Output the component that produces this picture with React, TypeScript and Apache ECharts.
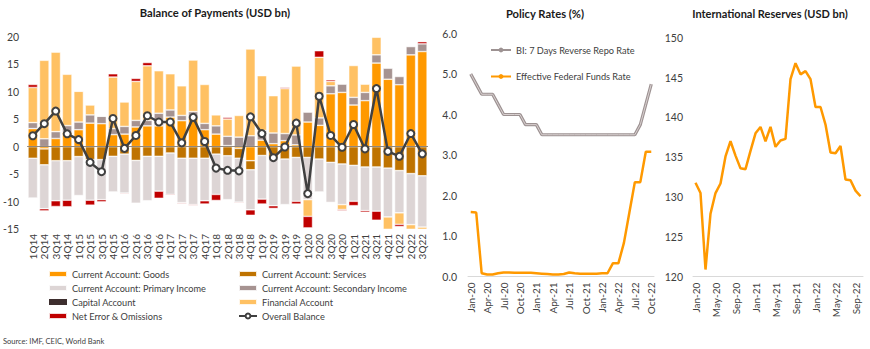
import React, { useEffect, useRef } from "react";
import * as echarts from "echarts";

const quarters = [
  "1Q14", "2Q14", "3Q14", "4Q14", "1Q15", "2Q15", "3Q15", "4Q15",
  "1Q16", "2Q16", "3Q16", "4Q16", "1Q17", "2Q17", "3Q17", "4Q17",
  "1Q18", "2Q18", "3Q18", "4Q18", "1Q19", "2Q19", "3Q19", "4Q19",
  "1Q20", "2Q20", "3Q20", "4Q20", "1Q21", "2Q21", "3Q21", "4Q21",
  "1Q22", "2Q22", "3Q22",
];
const goods = [3.3, -0.4, 1.5, 2.65, 3.1, 4.3, 4.2, 2.2, 2.3, 3.6, 3.8, 3.8, 5.4, 4.75, 5.35, 3.1, 2.3, 0.2, -0.3, -2.55, 1.2, 0.55, 1.1, 0.35, 4.5, 3.9, 9.65, 9.9, 7.6, 8.4, 15.25, 12.3, 11.3, 16.75, 17.35];
const services = [-2.1, -2.9, -2.55, -2.55, -1.8, -2.35, -2.35, -1.75, -1.35, -2.5, -1.75, -1.75, -1.15, -2.1, -2.1, -2.1, -1.35, -1.65, -1.8, -1.65, -1.6, -1.95, -2.25, -1.95, -1.95, -2.25, -2.85, -3.15, -3.4, -3.7, -3.7, -3.9, -4.35, -4.9, -5.3];
const primaryIncome = [-7.25, -8.0, -7.3, -7.2, -7.1, -7.4, -7.3, -6.5, -7.1, -7.8, -8.1, -6.35, -7.55, -8.1, -8.45, -7.75, -7.35, -8.0, -8.0, -7.3, -7.95, -8.8, -8.3, -8.0, -7.7, -6.0, -7.3, -7.4, -6.55, -7.95, -8.05, -8.9, -7.7, -9.3, -9.35];
const secondaryIncome = [1.1, 1.45, 1.25, 1.2, 1.4, 1.5, 1.35, 1.1, 1.4, 1.2, 1.0, 2.3, 1.3, 0.95, 1.05, 1.15, 1.5, 1.7, 1.75, 2.0, 1.75, 1.95, 1.3, 1.8, 1.8, 1.35, 1.45, 1.5, 1.4, 1.5, 1.5, 2.0, 1.5, 1.5, 1.4];
const capitalAccount = [0, 0, 0, 0, 0, 0, 0, 0, 0, 0, 0, 0, 0, 0, 0, 0, 0, 0, 0, 0, 0, 0, 0, 0, 0, 0, 0, 0, 0, 0, 0, 0, 0, 0, 0];
const financialAccount = [6.4, 14.3, 14.5, 9.35, 5.6, 1.8, 0, 9.4, 4.45, 7.1, 9.95, 7.75, 6.6, 5.4, 9.4, 7.1, 2.0, 3.15, 3.95, 15.8, 10.0, 6.8, 8.2, 12.55, -3.05, 11.05, 0.8, -0.9, 5.8, 1.5, 3.2, -2.4, -2.1, -1.7, -5.8];
const netErrors = [0.55, -0.4, -1.05, -1.2, 0.1, -0.9, -0.4, 0.6, -0.15, 0.55, 0.6, -1.3, -0.15, -0.15, -0.15, -0.6, -1.1, 0.3, -0.15, -1.0, -0.9, -0.5, 0.2, -0.5, -2.1, 1.2, 0.3, -0.2, -0.8, -0.3, -1.65, 0, -0.4, 0, 0.4];
const overallBalance = [2.0, 4.2, 6.5, 2.35, 1.3, -2.85, -4.55, 5.15, -0.3, 2.05, 5.65, 4.5, 4.5, 0.7, 5.35, 0.95, -3.9, -4.3, -4.4, 5.45, 2.4, -2.0, -0.05, 4.3, -8.55, 9.2, 2.05, -0.1, 4.05, -0.4, 10.6, -0.85, -1.75, 2.4, -1.3];

const rateMonths = [
  "Jan-20", "Feb-20", "Mar-20", "Apr-20", "May-20", "Jun-20", "Jul-20", "Aug-20", "Sep-20", "Oct-20", "Nov-20", "Dec-20",
  "Jan-21", "Feb-21", "Mar-21", "Apr-21", "May-21", "Jun-21", "Jul-21", "Aug-21", "Sep-21", "Oct-21", "Nov-21", "Dec-21",
  "Jan-22", "Feb-22", "Mar-22", "Apr-22", "May-22", "Jun-22", "Jul-22", "Aug-22", "Sep-22", "Oct-22",
];
const biRate = [5.0, 4.75, 4.5, 4.5, 4.5, 4.25, 4.0, 4.0, 4.0, 4.0, 3.75, 3.75, 3.75, 3.5, 3.5, 3.5, 3.5, 3.5, 3.5, 3.5, 3.5, 3.5, 3.5, 3.5, 3.5, 3.5, 3.5, 3.5, 3.5, 3.5, 3.5, 3.75, 4.25, 4.75];
const fedRate = [1.59, 1.58, 0.08, 0.05, 0.05, 0.08, 0.1, 0.1, 0.09, 0.09, 0.09, 0.09, 0.08, 0.07, 0.06, 0.05, 0.05, 0.06, 0.1, 0.08, 0.07, 0.07, 0.07, 0.07, 0.08, 0.08, 0.33, 0.33, 0.83, 1.58, 2.33, 2.33, 3.08, 3.08];

const reserveMonths = rateMonths;
const reserves = [131.8, 130.5, 120.9, 127.9, 130.5, 131.7, 135.1, 137.0, 135.2, 133.6, 133.5, 135.8, 138.0, 138.8, 137.0, 138.8, 136.3, 137.1, 137.3, 144.8, 146.8, 145.4, 145.8, 144.8, 141.3, 141.3, 139.1, 135.6, 135.5, 136.4, 132.2, 132.1, 130.8, 130.1];

const FONT = "Lato";
const LABEL = "#404040";

export default function App() {
  const ref = useRef<HTMLDivElement>(null);
  useEffect(() => {
    if (!ref.current) return;
    const chart = echarts.init(ref.current, undefined, { renderer: "svg" });
    const barBorder = { borderColor: "rgba(255,255,255,0.85)", borderWidth: 0.6 };
    const bar = (name: string, data: number[], color: string) => ({
      name,
      type: "bar",
      stack: "bop",
      xAxisIndex: 0,
      yAxisIndex: 0,
      barCategoryGap: "16%",
      data,
      itemStyle: { color, ...barBorder },
    });
    const legendText = { fontSize: 9.2, color: LABEL, fontFamily: FONT, lineHeight: 12 };
    const option: any = {
      animation: false,
      backgroundColor: "#ffffff",
      textStyle: { fontFamily: FONT },
      grid: [
        { left: 27, top: 37, width: 401, height: 192 },
        { left: 468, top: 33.5, width: 186, height: 243 },
        { left: 693, top: 37.7, width: 170, height: 239 },
      ],
      xAxis: [
        {
          gridIndex: 0, type: "category", data: quarters,
          axisLine: { show: false, onZero: false }, axisTick: { show: false },
          axisLabel: { rotate: 90, interval: 0, fontSize: 10, color: LABEL, margin: 5, fontFamily: FONT },
        },
        {
          gridIndex: 1, type: "category", data: rateMonths,
          axisLine: { lineStyle: { color: "#D9D9D9", width: 1 } }, axisTick: { show: false },
          axisLabel: { rotate: 90, interval: 2, fontSize: 10, color: LABEL, margin: 6, fontFamily: FONT },
        },
        {
          gridIndex: 2, type: "category", data: reserveMonths,
          axisLine: { lineStyle: { color: "#D9D9D9", width: 1 } }, axisTick: { show: false },
          axisLabel: { rotate: 90, interval: 3, fontSize: 10, color: LABEL, margin: 6, fontFamily: FONT },
        },
      ],
      yAxis: [
        {
          gridIndex: 0, type: "value", min: -15, max: 20, interval: 5,
          axisLine: { show: false }, axisTick: { show: false }, splitLine: { show: false },
          axisLabel: { fontSize: 10.5, color: LABEL, margin: 8, fontFamily: FONT },
        },
        {
          gridIndex: 1, type: "value", min: 0, max: 6, interval: 1,
          axisLine: { show: false }, axisTick: { show: false }, splitLine: { show: false },
          axisLabel: { fontSize: 10.5, color: LABEL, margin: 11, fontFamily: FONT, formatter: (v: number) => v.toFixed(1) },
        },
        {
          gridIndex: 2, type: "value", min: 120, max: 150, interval: 5,
          axisLine: { show: false }, axisTick: { show: false }, splitLine: { show: false },
          axisLabel: { fontSize: 10.5, color: LABEL, margin: 10, fontFamily: FONT },
        },
      ],
      legend: [
        {
          orient: "vertical", left: 43, top: 263, itemWidth: 18, itemHeight: 6, itemGap: 2,
          textStyle: legendText,
          data: [
            { name: "Current Account: Goods", icon: "rect" },
            { name: "Current Account: Primary Income", icon: "rect" },
            { name: "Capital Account", icon: "rect" },
            { name: "Net Error & Omissions", icon: "rect" },
          ],
        },
        {
          orient: "vertical", left: 233, top: 263, itemWidth: 18, itemHeight: 6, itemGap: 2,
          textStyle: legendText,
          data: [
            { name: "Current Account: Services", icon: "rect" },
            { name: "Current Account: Secondary Income", icon: "rect" },
            { name: "Financial Account", icon: "rect" },
            { name: "Overall Balance" },
          ],
        },
        {
          orient: "vertical", left: 485, top: 39, itemWidth: 20, itemHeight: 6, itemGap: 14.5,
          textStyle: legendText,
          data: ["BI: 7 Days Reverse Repo Rate", "Effective Federal Funds Rate"],
        },
      ],
      graphic: [
        { type: "text", x: 215, y: 12, style: { text: "Balance of Payments (USD bn)", fontSize: 11.2, fontWeight: "bold", fontFamily: FONT, fill: "#1a1a1a", textAlign: "center", textVerticalAlign: "middle" } },
        { type: "text", x: 545, y: 13, style: { text: "Policy Rates (%)", fontSize: 11.2, fontWeight: "bold", fontFamily: FONT, fill: "#1a1a1a", textAlign: "center", textVerticalAlign: "middle" } },
        { type: "text", x: 770, y: 13, style: { text: "International Reserves (USD bn)", fontSize: 11, fontWeight: "bold", fontFamily: FONT, fill: "#1a1a1a", textAlign: "center", textVerticalAlign: "middle" } },
        { type: "text", x: 3, y: 341, style: { text: "Source: IMF, CEIC, World Bank", fontSize: 7.5, fontFamily: FONT, fill: LABEL, textAlign: "left", textVerticalAlign: "middle" } },
      ],
      series: [
        bar("Current Account: Goods", goods, "#FF9900"),
        bar("Current Account: Services", services, "#BF7300"),
        bar("Current Account: Primary Income", primaryIncome, "#DDD5D5"),
        bar("Current Account: Secondary Income", secondaryIncome, "#A69391"),
        { ...bar("Capital Account", capitalAccount, "#3D2E2E"), itemStyle: { color: "#3D2E2E" } },
        bar("Financial Account", financialAccount, "#FFC163"),
        {
          ...bar("Net Error & Omissions", netErrors, "#C00000"),
          markLine: {
            silent: true, symbol: "none", label: { show: false },
            lineStyle: { color: "rgba(110,100,90,0.75)", width: 1, type: "solid" },
            data: [{ yAxis: 0 }],
          },
        },
        {
          name: "Overall Balance", type: "line", xAxisIndex: 0, yAxisIndex: 0, z: 5,
          data: overallBalance, symbol: "circle", symbolSize: 7,
          lineStyle: { color: "#404040", width: 2.5 },
          itemStyle: { color: "#ffffff", borderColor: "#404040", borderWidth: 2 },
        },
        {
          name: "BI: 7 Days Reverse Repo Rate", type: "line", xAxisIndex: 1, yAxisIndex: 1,
          data: biRate, symbol: "none", lineStyle: { color: "#9D9292", width: 3.2 }, itemStyle: { color: "#9D9292" },
        },
        {
          name: "BI inner", type: "line", xAxisIndex: 1, yAxisIndex: 1, z: 3,
          data: biRate, symbol: "none", lineStyle: { color: "#D9D1D1", width: 1 }, silent: true,
        },
        {
          name: "Effective Federal Funds Rate", type: "line", xAxisIndex: 1, yAxisIndex: 1,
          data: fedRate, symbol: "none", lineStyle: { color: "#FF9900", width: 2.5 }, itemStyle: { color: "#FF9900" },
        },
        {
          name: "International Reserves", type: "line", xAxisIndex: 2, yAxisIndex: 2,
          data: reserves, symbol: "none", lineStyle: { color: "#FF9900", width: 2.5 }, itemStyle: { color: "#FF9900" },
        },
      ],
    };
    chart.setOption(option);
    return () => chart.dispose();
  }, []);
  return (
    <div
      ref={ref}
      style={{ position: "fixed", left: 0, top: 0, width: 870, height: 349, background: "#fff" }}
    />
  );
}
